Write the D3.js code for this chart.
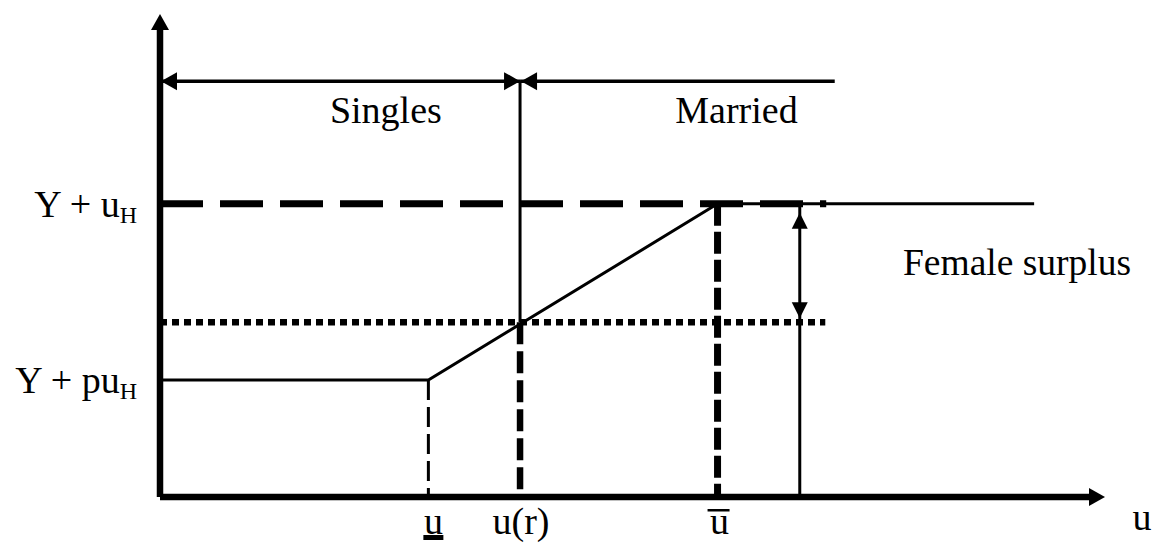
<!DOCTYPE html>
<html>
<head>
<meta charset="utf-8">
<script src="https://cdn.jsdelivr.net/npm/d3@7"></script>
<style>
  html, body { margin: 0; padding: 0; background: #fff; }
  svg { display: block; }
  text { font-family: "Liberation Serif", "Times New Roman", serif; fill: #000; }
</style>
</head>
<body>
<svg id="chart" width="1170" height="552"></svg>
<script>
// ---------- data (schematic units) ----------
const axisMax = [10, 10];                 // u axis, payoff axis
const uMarks = [2.84, 3.81, 5.9];         // u_ (lower), u(r), ū (upper)
const uSurplus = 6.77;                    // position of female-surplus arrow
const levels = [6.07, 3.62, 2.42];        // Y + uH, reservation level, Y + puH
const payoffU = [0, 2.84, 5.9];           // kinked payoff line
const payoffV = [2.42, 2.42, 6.07];
const regionSpan = [0, 3.81, 7.14];       // Singles | Married brackets
const regionY = 8.61;
const regionLabels = ["Singles", "Married"];
const labelU = [2.39, 6.1];               // label centres for the region names
const lineEnds = [7.05, 9.25, 7.04];      // dashed uH end, thin uH end, dotted end
const yLabels = [["Y + u", "H"], ["Y + pu", "H"]];
const xLabels = ["u", "u(r)", "u", "u"];

// ---------- scales ----------
const svg = d3.select("#chart");
const x = d3.scaleLinear().domain([0, axisMax[0]]).range([160, 1105]);
const y = d3.scaleLinear().domain([0, axisMax[1]]).range([497, 14]);

const line = d3.line().x(d => x(d[0])).y(d => y(d[1]));
const FS = 38;

function arrowHead(tx, ty, dir, len, half) {
  let pts;
  if (dir === "up") pts = [[tx, ty], [tx - half, ty + len], [tx + half, ty + len]];
  if (dir === "down") pts = [[tx, ty], [tx - half, ty - len], [tx + half, ty - len]];
  if (dir === "left") pts = [[tx, ty], [tx + len, ty - half], [tx + len, ty + half]];
  if (dir === "right") pts = [[tx, ty], [tx - len, ty - half], [tx - len, ty + half]];
  svg.append("path").attr("d", d3.line()(pts) + "Z").attr("fill", "#000");
}

function seg(p, width, dash) {
  const s = svg.append("path").attr("d", line(p))
    .attr("fill", "none").attr("stroke", "#000").attr("stroke-width", width);
  if (dash) s.attr("stroke-dasharray", dash);
  return s;
}

// ---------- horizontal reference lines ----------
seg([[uMarks[2], levels[0]], [lineEnds[1], levels[0]]], 3);
seg([[0, levels[0]], [lineEnds[0], levels[0]]], 7, "43,17");
seg([[0, levels[1]], [lineEnds[2], levels[1]]], 6.5, "7,5");

// ---------- vertical lines ----------
seg([[uMarks[1], regionY], [uMarks[1], levels[1]]], 3);
seg([[uMarks[1], levels[1]], [uMarks[1], 0]], 6.5, "22,7");
seg([[uMarks[0], levels[2]], [uMarks[0], 0]], 3, "20,7");
seg([[uMarks[2], levels[0]], [uMarks[2], 0]], 7, "22,6");
seg([[uSurplus, levels[1]], [uSurplus, 0]], 3);
seg([[uSurplus, levels[0]], [uSurplus, levels[1]]], 3);
arrowHead(x(uSurplus), y(levels[0]) + 9, "up", 16, 8);
arrowHead(x(uSurplus), y(levels[1]) - 4, "down", 16, 8);

// ---------- payoff line ----------
seg(payoffU.map((u, i) => [u, payoffV[i]]), 3);

// ---------- region brackets ----------
seg([[regionSpan[0], regionY], [regionSpan[1], regionY]], 3.5);
seg([[regionSpan[1], regionY], [regionSpan[2], regionY]], 3.5);
arrowHead(x(regionSpan[0]) + 1, y(regionY), "left", 16, 9);
arrowHead(x(regionSpan[1]), y(regionY), "right", 16, 9);
arrowHead(x(regionSpan[1]) + 1, y(regionY), "left", 16, 9);

regionLabels.forEach((lab, i) => {
  svg.append("text").attr("x", x(labelU[i])).attr("y", y(regionY) + 42)
    .attr("text-anchor", "middle").attr("font-size", FS).text(lab);
});

svg.append("text").attr("x", 903).attr("y", 275)
  .attr("font-size", 37.5).text("Female surplus");

// ---------- axes ----------
svg.append("path").attr("d", line([[0, 0], [0, axisMax[1] - 0.3]]))
  .attr("stroke", "#000").attr("stroke-width", 6.5).attr("fill", "none");
svg.append("path").attr("d", line([[0, 0], [axisMax[0] - 0.15, 0]]))
  .attr("stroke", "#000").attr("stroke-width", 6.5).attr("fill", "none");
arrowHead(x(0), y(axisMax[1]), "up", 16, 9);
arrowHead(x(axisMax[0]), y(0), "right", 16, 9);

// ---------- y labels ----------
[levels[0], levels[2]].forEach((v, i) => {
  const t = svg.append("text").attr("x", 137).attr("y", y(v) + 13)
    .attr("text-anchor", "end").attr("font-size", FS);
  t.append("tspan").text(yLabels[i][0]);
  t.append("tspan").attr("font-size", 24).attr("dy", 6).text(yLabels[i][1]);
});

// ---------- x labels ----------
const lblY = 534;
svg.append("text").attr("x", x(uMarks[0]) + 5).attr("y", lblY)
  .attr("text-anchor", "middle").attr("font-size", FS).text(xLabels[0]);
svg.append("rect").attr("x", x(uMarks[0]) - 5).attr("y", lblY + 1).attr("width", 20).attr("height", 5).attr("fill", "#000");
svg.append("text").attr("x", x(uMarks[1]) + 1).attr("y", lblY)
  .attr("text-anchor", "middle").attr("font-size", FS).text(xLabels[1]);
svg.append("text").attr("x", x(uMarks[2]) + 2).attr("y", lblY)
  .attr("text-anchor", "middle").attr("font-size", FS).text(xLabels[2]);
svg.append("rect").attr("x", x(uMarks[2]) - 10).attr("y", lblY - 25).attr("width", 22).attr("height", 2.5).attr("fill", "#000");
svg.append("text").attr("x", 1142).attr("y", lblY - 4)
  .attr("text-anchor", "middle").attr("font-size", FS).text(xLabels[3]);
</script>
</body>
</html>
